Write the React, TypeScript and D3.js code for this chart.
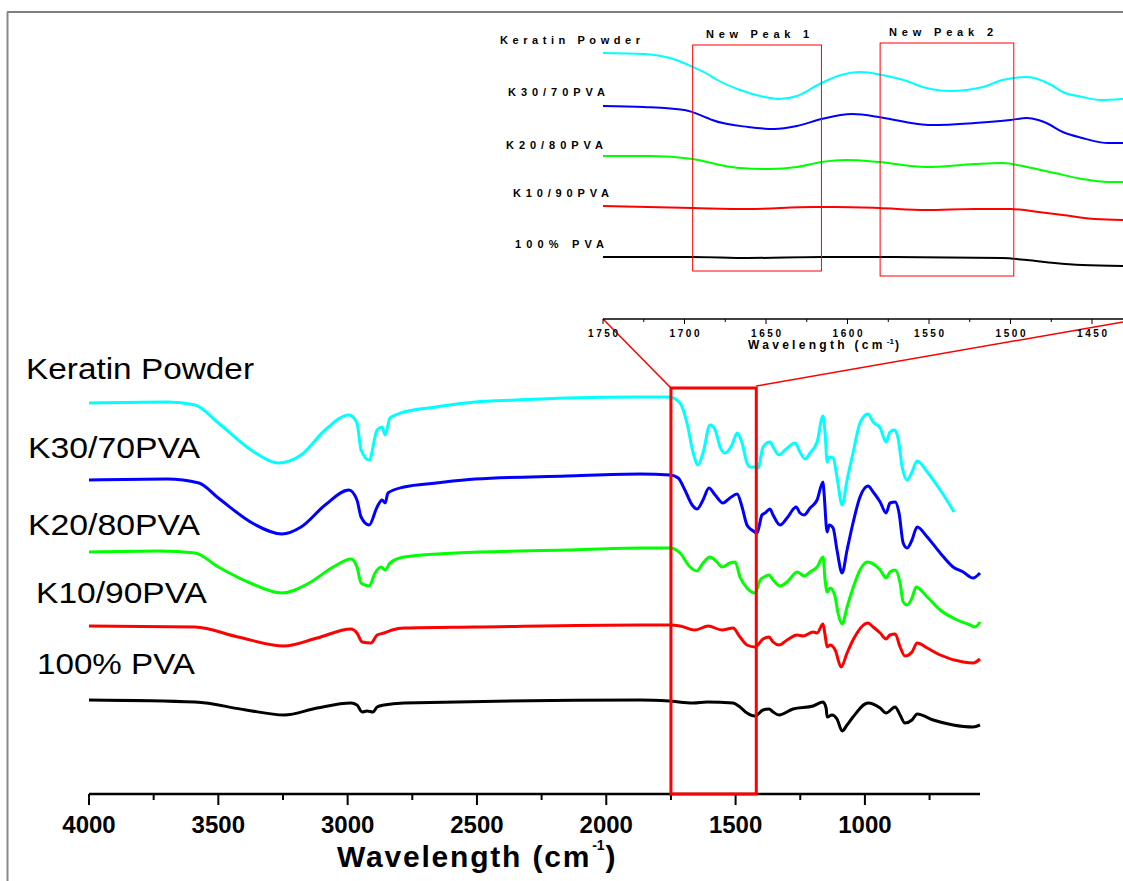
import React from "react";
import * as d3 from "d3";

type Pt = [number, number];

// ---------- main spectra (wavenumber cm-1, transmittance a.u. with offset) ----------
const keratinPowder: Pt[] = [
  [4000,392],[3698,393],[3590,390],[3500,372],[3362,343],[3269,332],[3180,340],[3087,365],[2995,380],[2964,372],[2948,345],[2917,335],[2886,365],[2867,368],[2855,360],[2836,377],[2782,383],[2658,388],[2507,393],[2350,395],[2155,397],[1869,398],[1757,398],[1715,392],[1688,372],[1664,342],[1645,330],[1626,342],[1599,370],[1579,365],[1560,348],[1541,342],[1514,350],[1494,362],[1475,352],[1456,332],[1444,328],[1425,328],[1413,327],[1394,348],[1367,353],[1355,348],[1332,340],[1309,345],[1270,352],[1251,343],[1231,336],[1212,342],[1185,353],[1162,379],[1154,362],[1146,333],[1138,338],[1123,337],[1108,318],[1088,290],[1069,315],[1046,342],[1019,372],[988,381],[968,373],[941,367],[918,353],[903,363],[887,365],[872,357],[856,328],[837,315],[818,323],[798,334],[759,323],[709,305],[655,283]
];
const k30pva: Pt[] = [
  [4000,315],[3698,316],[3575,312],[3500,297],[3362,271],[3254,261],[3180,268],[3087,290],[2995,305],[2964,295],[2948,278],[2917,270],[2886,288],[2867,295],[2855,292],[2844,302],[2782,308],[2658,312],[2507,316],[2155,319],[1869,321],[1753,320],[1722,317],[1696,305],[1668,290],[1649,286],[1626,295],[1603,307],[1579,300],[1549,292],[1522,297],[1494,301],[1475,288],[1456,270],[1437,265],[1417,262],[1398,280],[1386,282],[1367,286],[1355,280],[1328,270],[1301,277],[1266,288],[1251,282],[1235,280],[1212,287],[1185,295],[1162,313],[1158,302],[1146,263],[1138,270],[1123,267],[1108,245],[1088,222],[1069,245],[1046,272],[1019,298],[988,309],[968,303],[941,293],[918,282],[903,292],[883,293],[868,282],[852,252],[837,247],[818,255],[798,268],[759,258],[709,242],[659,228],[620,223],[582,217],[555,222]
];
const k20pva: Pt[] = [
  [4000,243],[3729,244],[3590,242],[3500,228],[3377,212],[3254,202],[3149,212],[3056,228],[2987,236],[2964,228],[2948,212],[2933,210],[2917,209],[2894,222],[2871,228],[2855,225],[2836,232],[2782,238],[2581,242],[2155,245],[1869,247],[1753,247],[1715,242],[1676,228],[1649,224],[1626,232],[1599,238],[1572,233],[1553,228],[1522,232],[1502,233],[1483,218],[1456,207],[1425,202],[1405,215],[1390,218],[1371,220],[1355,215],[1328,209],[1301,213],[1262,223],[1243,220],[1235,219],[1212,223],[1185,228],[1162,238],[1154,215],[1146,203],[1134,207],[1115,198],[1104,182],[1088,171],[1069,188],[1046,207],[1019,225],[991,233],[941,225],[918,217],[903,223],[883,225],[864,212],[852,193],[837,190],[818,197],[802,208],[759,198],[709,185],[643,175],[593,170],[574,168],[555,173]
];
const k10pva: Pt[] = [
  [4000,169],[3590,168],[3424,158],[3246,149],[3118,157],[2987,166],[2964,162],[2944,153],[2910,152],[2886,160],[2859,162],[2828,165],[2782,167],[2507,168],[1869,170],[1757,170],[1715,169],[1657,165],[1606,169],[1553,165],[1510,167],[1483,158],[1456,150],[1425,148],[1394,156],[1371,158],[1355,153],[1332,150],[1301,155],[1262,160],[1239,159],[1200,163],[1185,162],[1162,171],[1154,160],[1146,148],[1134,150],[1115,145],[1092,128],[1069,142],[1046,155],[988,172],[968,168],[941,162],[918,156],[903,160],[883,161],[864,148],[845,139],[818,143],[798,152],[759,147],[709,140],[620,133],[582,132],[555,136]
];
const pva100: Pt[] = [
  [4000,95],[3590,93],[3393,85],[3246,80],[3118,87],[2987,92],[2964,90],[2944,83],[2925,84],[2902,83],[2886,88],[2859,90],[2782,92],[1869,95],[1757,94],[1664,92],[1610,93],[1510,92],[1483,88],[1456,82],[1425,79],[1394,85],[1371,86],[1355,83],[1332,80],[1278,86],[1200,89],[1162,93],[1150,87],[1146,78],[1127,80],[1108,76],[1088,64],[1069,70],[1046,78],[988,92],[941,87],[918,82],[883,88],[864,80],[845,72],[818,75],[798,81],[736,75],[659,70],[582,68],[555,70]
];

// ---------- inset spectra (1750-1431 cm-1) ----------
const insetKeratin: Pt[] = [
  [1750,265],[1725,264],[1705,258],[1695,251],[1686,244],[1681,239],[1666,228],[1651,221],[1642,219],[1631,222],[1616,235],[1604,243],[1592,246],[1579,243],[1562,236],[1554,231],[1537,227],[1517,231],[1505,238],[1490,241],[1475,233],[1468,226],[1456,221],[1445,218],[1431,219]
];
const insetK30: Pt[] = [
  [1750,212],[1725,211],[1700,208],[1686,200],[1683,198],[1661,191],[1645,189],[1631,192],[1616,199],[1597,204],[1581,201],[1571,198],[1557,194],[1549,193],[1522,195],[1500,198],[1490,200],[1483,198],[1478,195],[1468,186],[1456,180],[1440,175],[1431,175]
];
const insetK20: Pt[] = [
  [1750,162],[1721,162],[1695,159],[1681,154],[1666,150],[1648,149],[1631,151],[1616,156],[1601,158],[1581,156],[1552,151],[1522,154],[1505,155],[1490,151],[1473,145],[1456,139],[1440,136],[1431,136]
];
const insetK10: Pt[] = [
  [1750,112],[1695,110],[1661,109],[1621,111],[1608,111],[1581,110],[1552,108],[1522,109],[1500,109],[1483,106],[1468,103],[1448,99],[1431,98]
];
const insetPva: Pt[] = [
  [1750,61],[1695,61],[1661,60],[1616,61],[1571,61],[1505,60],[1490,58],[1473,55],[1456,53],[1431,52]
];

const seriesNames = ["Keratin Powder", "K30/70PVA", "K20/80PVA", "K10/90PVA", "100% PVA"];
const insetNames = ["Keratin Powder", "K30/70PVA", "K20/80PVA", "K10/90PVA", "100% PVA"];
const colors = ["#00FFFF", "#0000FF", "#00FF00", "#FF0000", "#000000"];

const mainTicks = [4000, 3500, 3000, 2500, 2000, 1500, 1000];
const mainMinor = [3750, 3250, 2750, 2250, 1750, 1250, 750];
const insetTicks = [1750, 1700, 1650, 1600, 1550, 1500, 1450];
const insetMinor = [1725, 1675, 1625, 1575, 1525, 1475];

// highlighted regions
const zoomRegion: [number, number] = [1750, 1420];
const newPeak1: [number, number] = [1695, 1616];
const newPeak2: [number, number] = [1580, 1498];

export default function App() {
  const W = 1123, H = 881;
  const font = "'Liberation Sans', Arial, sans-serif";

  const x = d3.scaleLinear().domain([4000, 555]).range([89, 980]);
  const y = d3.scaleLinear().domain([0, 415]).range([795, 380]);
  const xi = d3.scaleLinear().domain([1750, 1431]).range([603, 1123]);
  const yi = d3.scaleLinear().domain([0, 280]).range([318, 38]);

  const line = d3.line<Pt>().x(d => x(d[0])).y(d => y(d[1])).curve(d3.curveMonotoneX);
  const lineI = d3.line<Pt>().x(d => xi(d[0])).y(d => yi(d[1])).curve(d3.curveMonotoneX);

  const mainData = [keratinPowder, k30pva, k20pva, k10pva, pva100];
  const insetData = [insetKeratin, insetK30, insetK20, insetK10, insetPva];

  const axisY = 794;
  const insetAxisY = 319;

  const mainLabelPos = [
    { x: 26, y: 379, len: 228 },
    { x: 28, y: 458, len: 172 },
    { x: 28, y: 535, len: 172 },
    { x: 36, y: 603, len: 171 },
    { x: 37, y: 674, len: 158 },
  ];
  const insetLabelPos = [
    { x: 500, y: 44, len: 140 },
    { x: 508, y: 96, len: 97 },
    { x: 506, y: 149, len: 97 },
    { x: 513, y: 197, len: 96 },
    { x: 515, y: 248, len: 89 },
  ];

  const boxL = x(zoomRegion[0]);
  const boxR = x(zoomRegion[1]);
  const boxTop = 388;

  return (
    <div style={{ position: "absolute", left: 0, top: 0 }}>
      <svg width={W} height={H} style={{ display: "block", background: "#fff" }}>
        {/* frame */}
        <line x1={7} y1={12} x2={W} y2={12} stroke="#000" strokeWidth={1.2} />
        <line x1={7.5} y1={12} x2={7.5} y2={H} stroke="#888" strokeWidth={2} />

        {/* main curves */}
        {mainData.map((d, i) => (
          <path key={i} d={line(d) || ""} fill="none" stroke={colors[i]} strokeWidth={3} strokeLinejoin="round" />
        ))}

        {/* main labels */}
        {seriesNames.map((n, i) => (
          <text key={n} x={mainLabelPos[i].x} y={mainLabelPos[i].y} fontFamily={font} fontSize={30}
            textLength={mainLabelPos[i].len} lengthAdjust="spacingAndGlyphs" fill="#000">{n}</text>
        ))}

        {/* main x axis */}
        <line x1={x(4000)} x2={x(555)} y1={axisY} y2={axisY} stroke="#000" strokeWidth={2.5} />
        {mainTicks.map(t => (
          <g key={t}>
            <line x1={x(t)} x2={x(t)} y1={axisY} y2={axisY + 11} stroke="#000" strokeWidth={2} />
            <text x={x(t)} y={833} textAnchor="middle" fontFamily={font} fontWeight="bold" fontSize={24}>{t}</text>
          </g>
        ))}
        {mainMinor.map(t => (
          <line key={t} x1={x(t)} x2={x(t)} y1={axisY} y2={axisY + 6} stroke="#000" strokeWidth={2} />
        ))}
        <text x={337} y={867} fontFamily={font} fontWeight="bold" fontSize={30}>
          <tspan letterSpacing={1.8}>Wavelength (cm</tspan>
          <tspan fontSize={14} dx={1} dy={-17}>-1</tspan>
          <tspan dx={1} dy={17}>)</tspan>
        </text>

        {/* zoom box + connectors */}
        <line x1={boxL} y1={boxTop} x2={xi(1750)} y2={insetAxisY} stroke="#FF0000" strokeWidth={1.5} />
        <line x1={boxR} y1={boxTop - 2} x2={xi(1431)} y2={insetAxisY + 3} stroke="#FF0000" strokeWidth={1.5} />
        <rect x={boxL} y={boxTop} width={boxR - boxL} height={axisY - boxTop} fill="none" stroke="#FF0000" strokeWidth={3} />

        {/* inset curves */}
        {insetData.map((d, i) => (
          <path key={i} d={lineI(d) || ""} fill="none" stroke={colors[i]} strokeWidth={2} strokeLinejoin="round" />
        ))}
        {insetNames.map((n, i) => (
          <text key={n} x={insetLabelPos[i].x} y={insetLabelPos[i].y} fontFamily={font} fontWeight="bold" fontSize={11}
            textLength={insetLabelPos[i].len} lengthAdjust="spacing">{n}</text>
        ))}

        {/* new peak boxes */}
        <rect x={xi(newPeak1[0])} y={45} width={xi(newPeak1[1]) - xi(newPeak1[0])} height={226} fill="none" stroke="#FF0000" strokeWidth={1} />
        <rect x={xi(newPeak2[0])} y={43} width={xi(newPeak2[1]) - xi(newPeak2[0])} height={233} fill="none" stroke="#FF0000" strokeWidth={1} />
        <text x={706} y={38} fontFamily={font} fontWeight="bold" fontSize={11} textLength={103} lengthAdjust="spacing">New Peak 1</text>
        <text x={889} y={36} fontFamily={font} fontWeight="bold" fontSize={11} textLength={104} lengthAdjust="spacing">New Peak 2</text>

        {/* inset axis */}
        <line x1={xi(1750)} x2={xi(1431)} y1={insetAxisY} y2={insetAxisY} stroke="#000" strokeWidth={1.5} />
        {insetTicks.map(t => (
          <g key={t}>
            <line x1={xi(t)} x2={xi(t)} y1={insetAxisY} y2={insetAxisY + 5} stroke="#000" strokeWidth={1} />
            <text x={xi(t) - 15} y={337} fontFamily={font} fontWeight="bold" fontSize={10} textLength={30} lengthAdjust="spacing">{t}</text>
          </g>
        ))}
        {insetMinor.map(t => (
          <line key={t} x1={xi(t)} x2={xi(t)} y1={insetAxisY} y2={insetAxisY + 3} stroke="#000" strokeWidth={1} />
        ))}
        <text x={748} y={349} fontFamily={font} fontWeight="bold" fontSize={12}>
          <tspan letterSpacing={3.3}>Wavelength (cm</tspan>
          <tspan fontSize={8} dx={1} dy={-5}>-1</tspan>
          <tspan dx={1} dy={5}>)</tspan>
        </text>
      </svg>
    </div>
  );
}
